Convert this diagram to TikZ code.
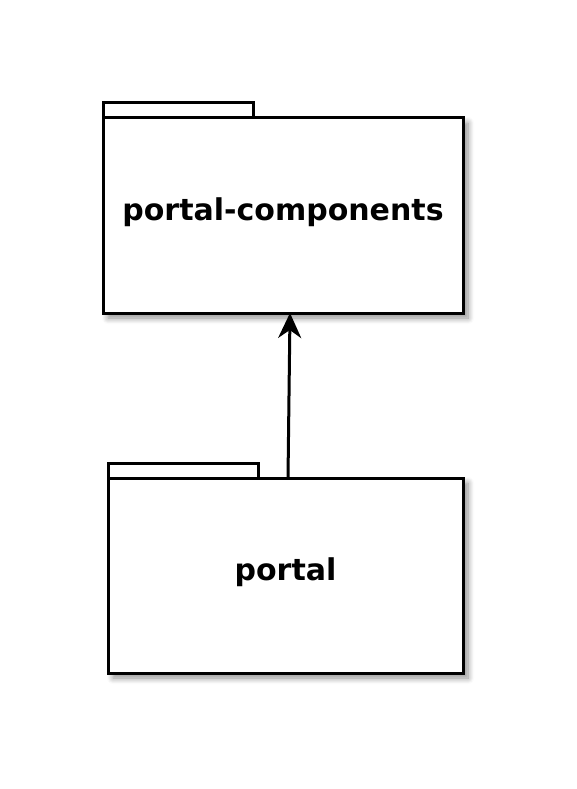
\documentclass[tikz,border=0pt]{standalone}
\usepackage{fontspec}
\setmainfont{DejaVu Sans}
\usetikzlibrary{arrows.meta,positioning,calc,shadows.blur}

\begin{document}
\begin{tikzpicture}[x=1pt, y=1pt,
        pkg/.style={rectangle, draw=black, fill=white, line width=3pt, outer sep=0pt,
                    minimum width=355pt, minimum height=195pt, text depth=13pt,
                    font=\fontsize{30}{36}\selectfont\bfseries,
                    blur shadow={shadow xshift=5pt, shadow yshift=-5pt,
                                 shadow blur radius=6pt, shadow blur steps=8,
                                 shadow opacity=45}},
        tab/.style={draw=black, fill=white, line width=3pt},
        arr/.style={-{Stealth[length=25pt, width=23pt, inset=8pt]}, line width=3pt}]
        \useasboundingbox (0,0) rectangle (576,-789);
        % packages
        \node[pkg, minimum width=360pt] (comp) at (283,-215.5) {portal-components};
        \node[pkg] (portal) at (285.5,-575.5) {portal};
        % tabs
        \draw[tab] (comp.north west) rectangle ++(150,15);
        \draw[tab] (portal.north west) rectangle ++(150,15);
        % dependency
        \draw[arr] ([xshift=2.5pt]portal.north) -- ([xshift=7pt]comp.south);
    \end{tikzpicture}
\end{document}
